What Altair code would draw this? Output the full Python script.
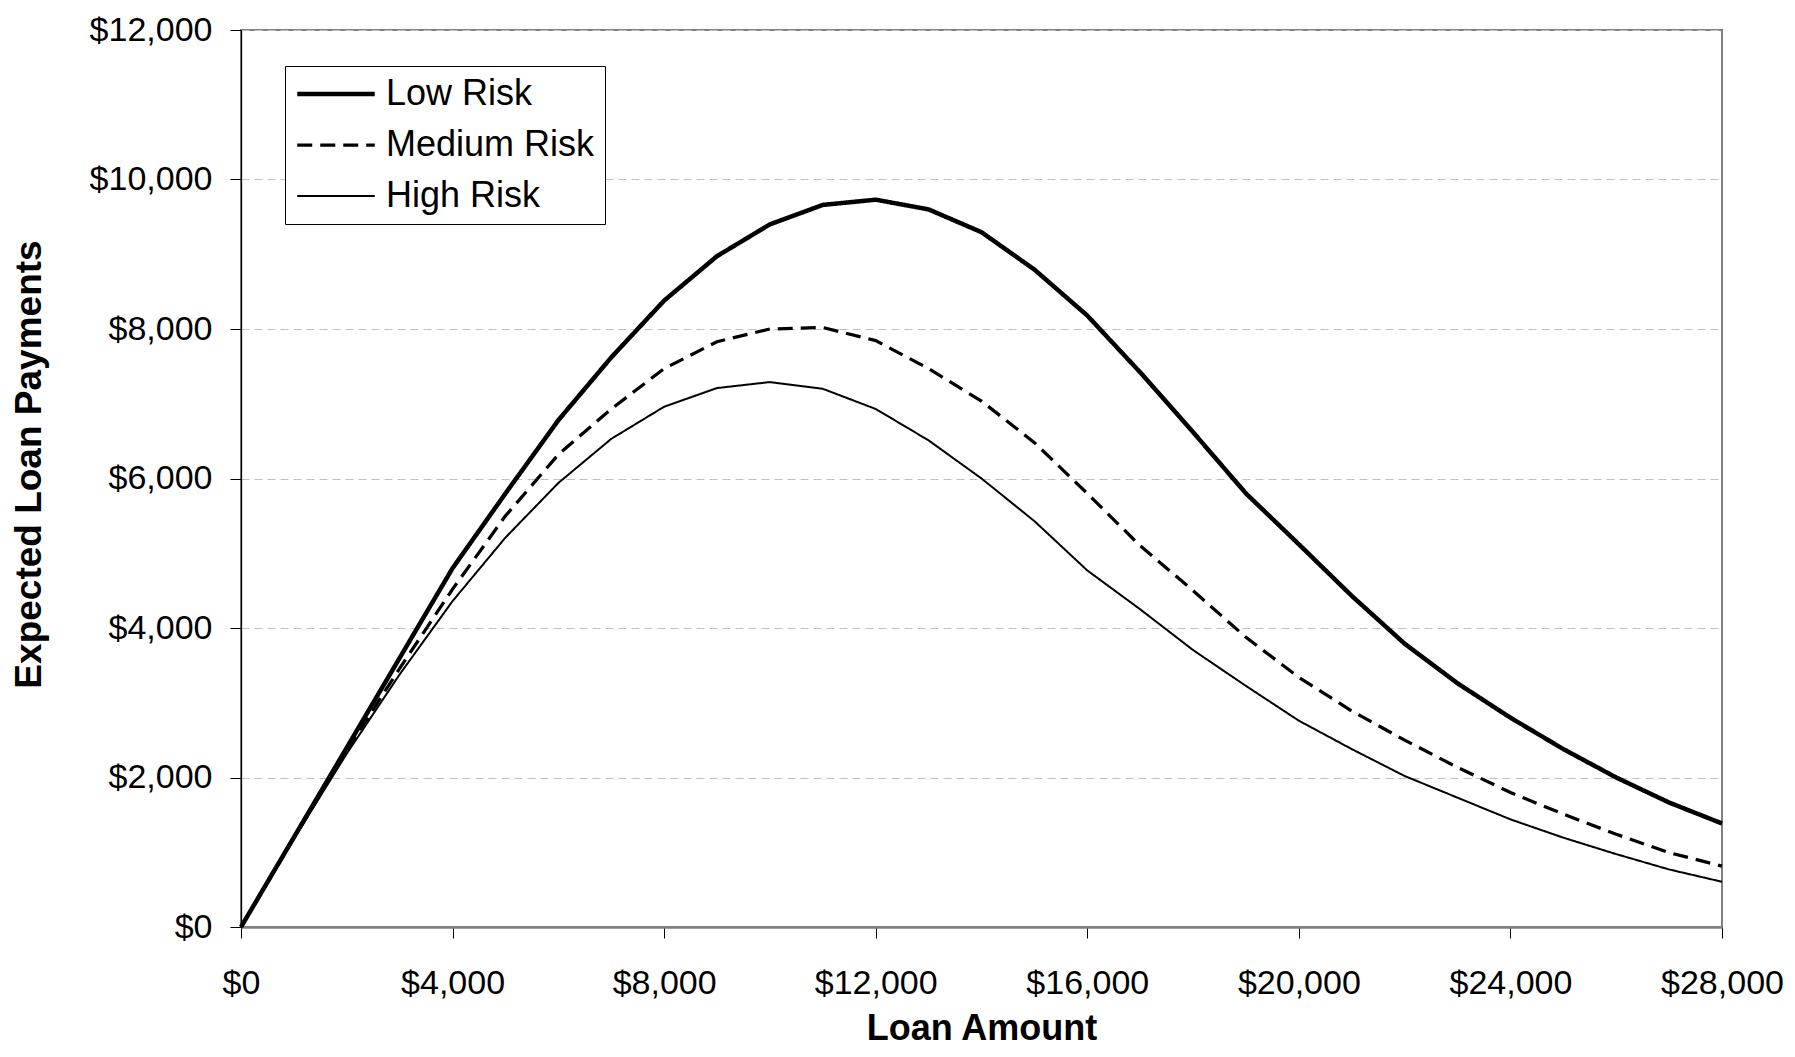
import altair as alt
import pandas as pd

# ---- data ----
loan_amounts = [0, 1000, 2000, 3000, 4000, 5000, 6000, 7000, 8000, 9000, 10000,
                11000, 12000, 13000, 14000, 15000, 16000, 17000, 18000, 19000,
                20000, 21000, 22000, 23000, 24000, 25000, 26000, 27000, 28000]
low_risk = [0, 1200, 2400, 3600, 4800, 5800, 6780, 7620, 8380, 8975, 9400,
            9660, 9730, 9600, 9295, 8795, 8180, 7420, 6620, 5800,
            5120, 4430, 3790, 3260, 2800, 2380, 2000, 1665, 1385]
medium_risk = [0, 1190, 2360, 3460, 4520, 5500, 6320, 6930, 7470, 7830, 8000,
               8020, 7845, 7470, 7035, 6480, 5800, 5100, 4500, 3875,
               3340, 2890, 2500, 2135, 1800, 1510, 1240, 995, 815]
high_risk = [0, 1180, 2320, 3380, 4360, 5210, 5940, 6530, 6960, 7210, 7290,
             7200, 6930, 6510, 6000, 5430, 4770, 4250, 3705, 3225,
             2760, 2380, 2020, 1730, 1440, 1195, 975, 770, 605]
series = ["Low Risk", "Medium Risk", "High Risk"]
x_ticks = [0, 4000, 8000, 12000, 16000, 20000, 24000, 28000]
y_ticks = [0, 2000, 4000, 6000, 8000, 10000, 12000]

rows = []
for name, vals in zip(series, [low_risk, medium_risk, high_risk]):
    for xv, yv in zip(loan_amounts, vals):
        rows.append({"Loan": xv, "Payment": yv, "Risk": name})
df = pd.DataFrame(rows)

FONT = "Liberation Sans"

legend_kw = dict(
    title=None, orient="none", legendX=44, legendY=36,
    symbolType="stroke", symbolSize=6006, clipHeight=36,
    symbolStrokeColor="black",
    labelFont=FONT, labelFontSize=36, labelColor="black", labelLimit=400,
    labelOffset=9, padding=10, rowPadding=15,
    strokeColor="black", fillColor="white",
)

chart = alt.Chart(df).mark_line(color="black", strokeJoin="miter").encode(
    x=alt.X("Loan:Q",
            scale=alt.Scale(domain=[0, 28000], nice=False, zero=True),
            axis=alt.Axis(values=x_ticks, format="$,.0f", title="Loan Amount",
                          grid=False, domainColor="#808080", domainWidth=2.5,
                          tickColor="black", tickWidth=1, tickSize=11,
                          labelFont=FONT, labelFontSize=34, labelColor="black",
                          labelPadding=28, labelFlush=False,
                          titleFont=FONT, titleFontSize=36, titleFontWeight="bold",
                          titleColor="black", titleBaseline="alphabetic",
                          titleY=112)),
    y=alt.Y("Payment:Q",
            scale=alt.Scale(domain=[0, 12000], nice=False),
            axis=alt.Axis(values=y_ticks, format="$,.0f",
                          title="Expected Loan Payments",
                          grid=True, gridColor="#c0c0c0", gridDash=[8, 5],
                          gridWidth=1.2,
                          domainColor="black", domainWidth=1.3,
                          tickColor="black", tickWidth=1, tickSize=11,
                          labelFont=FONT, labelFontSize=34, labelColor="black",
                          labelPadding=18,
                          titleFont=FONT, titleFontSize=37, titleFontWeight="bold",
                          titleColor="black", titleAngle=270,
                          titleBaseline="alphabetic", titleX=-201, titleY=434)),
    strokeDash=alt.StrokeDash("Risk:N",
                              scale=alt.Scale(domain=series,
                                              range=[[1, 0], [15, 8], [1, 0]]),
                              legend=alt.Legend(**legend_kw)),
    strokeWidth=alt.StrokeWidth("Risk:N",
                                scale=alt.Scale(domain=series, range=[4.5, 2, 2]),
                                legend=alt.Legend(**legend_kw)),
).properties(
    width=1481, height=897,
    padding={"left": 233, "top": 22, "right": 65, "bottom": 120},
    autosize=alt.AutoSizeParams(type="none"),
    background="white",
).configure_view(
    stroke="#808080", strokeWidth=2
)

chart.save("out.html", embed_options={"renderer": "svg", "actions": False})
